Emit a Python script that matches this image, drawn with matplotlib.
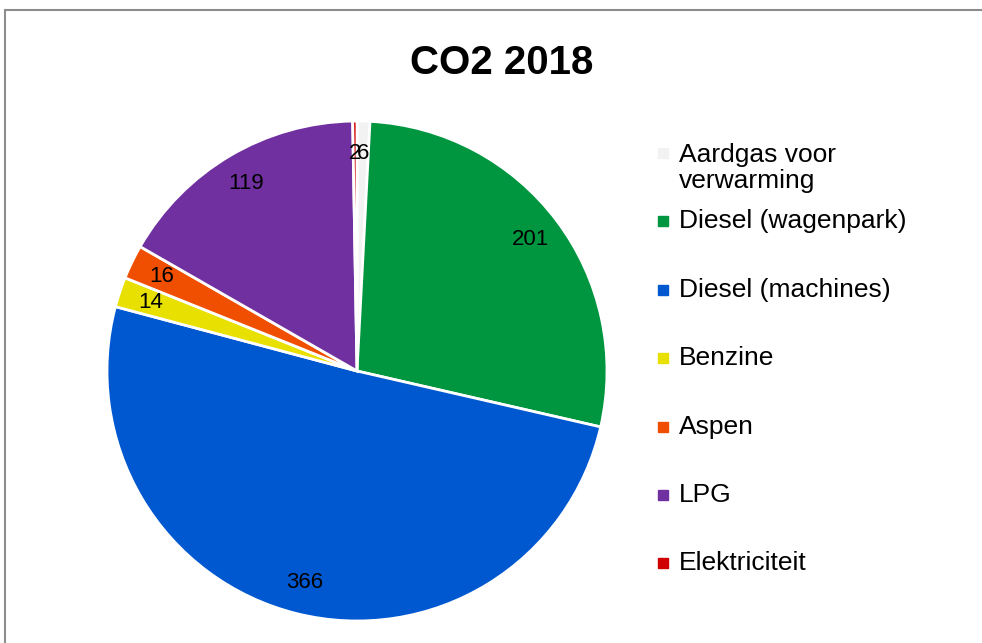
import matplotlib
matplotlib.use('Agg')
import matplotlib.pyplot as plt
from matplotlib.patches import Rectangle
from matplotlib.lines import Line2D

# data
labels = ['Aardgas voor\nverwarming', 'Diesel (wagenpark)', 'Diesel (machines)',
          'Benzine', 'Aspen', 'LPG', 'Elektriciteit']
values = [6, 201, 366, 14, 16, 119, 2]
colors = ['#f2f2f2', '#00953f', '#0058d0', '#e8e000', '#f04e00', '#7030a0', '#d00000']

plt.rcParams['font.family'] = ['Liberation Sans', 'DejaVu Sans']

W, H = 982, 643
fig = plt.figure(figsize=(W/100, H/100), dpi=100)

# outer chart border (only top and left visible)
fig.add_artist(Rectangle((5/W, -0.1), 2, (H-10)/H + 0.1, transform=fig.transFigure,
                         fill=False, edgecolor='#8c8c8c', lw=1.5))

cx, cy, r = 357, 371, 250
ax = fig.add_axes([(cx-r)/W, (H-cy-r)/H, 2*r/W, 2*r/H])
total = sum(values)
wedges, texts, autotexts = ax.pie(values, colors=colors, startangle=90, counterclock=False,
                                  autopct=lambda p: '%d' % round(p*total/100.0),
                                  pctdistance=0.87,
                                  wedgeprops=dict(edgecolor='white', linewidth=2),
                                  textprops=dict(fontsize=16, color='black'))
ax.set_xlim(-1, 1)
ax.set_ylim(-1, 1)
ax.set_aspect('equal')

fig.text(502/W, 1-63/H, 'CO2 2018', ha='center', va='center', fontsize=29, fontweight='bold')

# legend
leg_y = [168, 221, 290, 358, 427, 495, 563]
for i in range(len(labels)):
    y = leg_y[i] if i > 0 else 153
    fig.add_artist(Line2D([663/W], [1-y/H], marker='s', markersize=7.5, color=colors[i],
                          transform=fig.transFigure, linestyle='none'))
    fig.text(679/W, 1-leg_y[i]/H, labels[i], ha='left', va='center', fontsize=19,
             linespacing=1.13)

fig.savefig('out.png', dpi=100)
